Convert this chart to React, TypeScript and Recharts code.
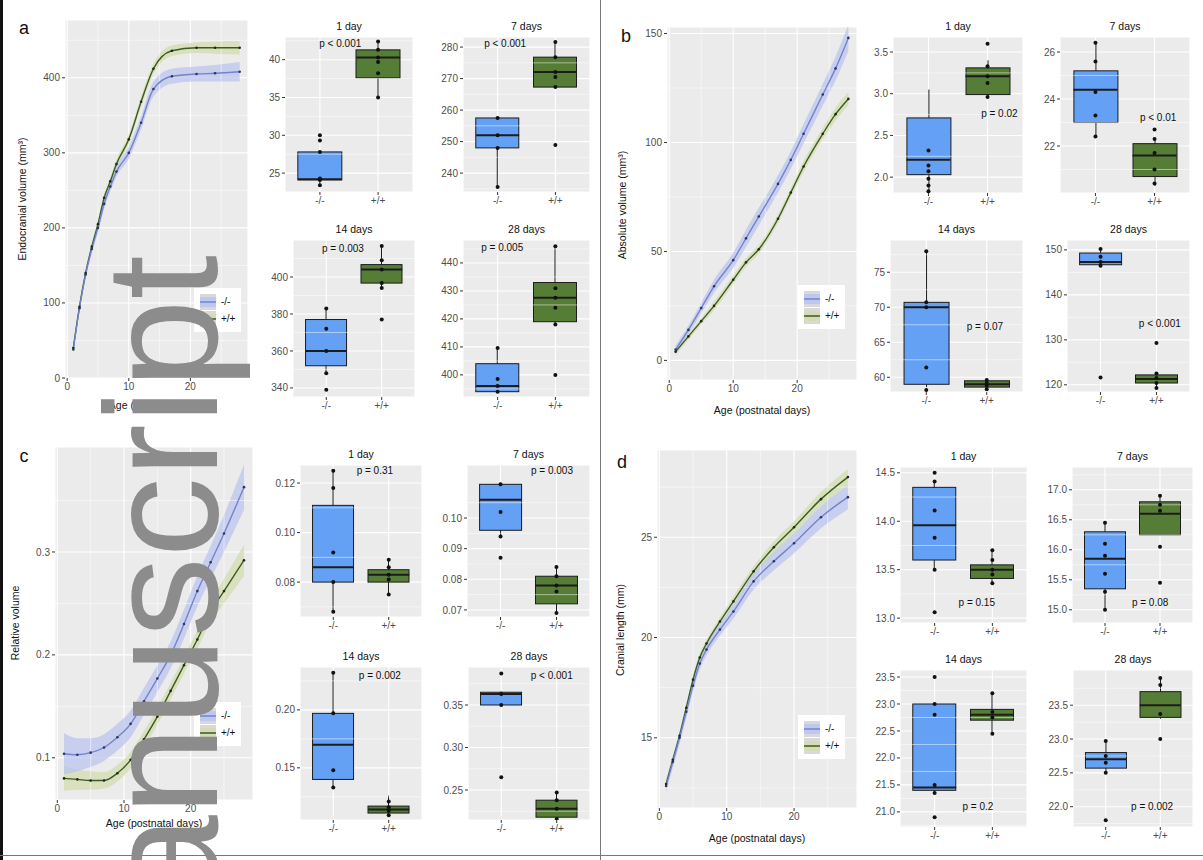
import React from 'react';
import {
  ComposedChart, Line, Area, Bar, Scatter, XAxis, YAxis, CartesianGrid,
  ReferenceLine, ReferenceDot, Legend,
} from 'recharts';

const FONT = '"Liberation Sans", Arial, Helvetica, sans-serif';
const BLUE_BOX = '#64a0f4';
const GREEN_BOX = '#567d36';
const BLUE_LINE = '#7483cc';
const GREEN_LINE = '#3d5a22';
const BLUE_BAND = '#b9c3f0';
const GREEN_BAND = '#d2dcae';
const INK = '#1c1c1c';

const groups = ['-/-', '+/+'];
const boxTitles = ['1 day', '7 days', '14 days', '28 days'];
const dayTicks = [0, 10, 20];
const dayMinor = [5, 15, 25];

// ---- a: endocranial volume
const aDays = [1, 2, 3, 4, 5, 6, 7, 8, 10, 12, 14, 17, 21, 24, 28];
const aMut = [38, 93, 138, 172, 200, 232, 255, 275, 300, 340, 385, 402, 405, 406, 408];
const aMutSe = [4, 5, 6, 6, 6, 6, 7, 7, 8, 9, 10, 10, 10, 11, 13];
const aWt = [40, 95, 140, 175, 205, 240, 262, 285, 318, 368, 412, 436, 440, 440, 440];
const aWtSe = [3, 4, 4, 5, 5, 5, 5, 6, 6, 7, 7, 7, 7, 8, 9];
const aTicks = [0, 100, 200, 300, 400];

// stats: [lower whisker, q1, median, q3, upper whisker]
const a1Mut = [23.4, 24.1, 24.2, 27.8, 27.8];
const a1MutPts = [23.4, 24.1, 24.3, 27.8, 29.3, 30.0];
const a1Wt = [35.0, 37.6, 40.3, 41.3, 42.4];
const a1WtPts = [35.0, 38.2, 39.7, 40.3, 41.3, 42.4];
const a1Ticks = [25, 30, 35, 40];

const a7Mut = [235.6, 248, 252, 257.5, 257.5];
const a7MutPts = [235.6, 248, 252, 257.5];
const a7Wt = [267.3, 267.3, 272.1, 276.8, 281.6];
const a7WtPts = [248.9, 267.3, 270.5, 272.1, 276.8, 281.6];
const a7Ticks = [240, 250, 260, 270, 280];

const a14Mut = [348, 352, 360, 377, 383];
const a14MutPts = [339, 348, 360, 372, 383];
const a14Wt = [394, 396.7, 404, 406.7, 416.7];
const a14WtPts = [377, 394, 396.7, 404, 409, 416.7];
const a14Ticks = [340, 360, 380, 400];

const a28Mut = [393.5, 394, 396, 404, 409.6];
const a28MutPts = [394, 396, 398.5, 409.6];
const a28Wt = [418, 419, 427.6, 433, 446];
const a28WtPts = [400, 418, 424, 427.6, 431, 446];
const a28Ticks = [400, 410, 420, 430, 440];

// ---- b: absolute volume
const bDays = [1, 3, 5, 7, 10, 12, 14, 17, 19, 21, 24, 26, 28];
const bMut = [5, 14, 24, 34, 46, 56, 66, 81, 92, 104, 122, 134, 148];
const bMutSe = [2, 2, 2.5, 3, 3.5, 4, 4, 4, 4, 4.5, 5, 5.5, 6];
const bWt = [4, 11, 18, 25, 37, 45, 51, 65, 77, 89, 104, 113, 120];
const bWtSe = [1.5, 1.5, 1.5, 2, 2, 2, 2, 2, 2, 2.5, 2.5, 3, 3];
const bTicks = [0, 50, 100, 150];

const b1Mut = [1.82, 2.03, 2.21, 2.71, 3.05];
const b1MutPts = [1.83, 1.9, 1.98, 2.07, 2.14, 2.32];
const b1Wt = [2.95, 2.99, 3.21, 3.31, 3.4];
const b1WtPts = [2.96, 3.13, 3.21, 3.33, 3.6];
const b1Ticks = [2.0, 2.5, 3.0, 3.5];

const b7Mut = [22.4, 23.0, 24.4, 25.2, 26.4];
const b7MutPts = [22.4, 23.3, 24.3, 25.6, 26.4];
const b7Wt = [20.3, 20.7, 21.6, 22.1, 22.3];
const b7WtPts = [20.4, 21.0, 21.7, 22.3, 22.7];
const b7Ticks = [22, 24, 26];

const b14Mut = [58.6, 59, 70, 70.7, 78];
const b14MutPts = [58.2, 61.4, 70.0, 70.7, 78];
const b14Wt = [58.3, 58.6, 59.0, 59.5, 59.8];
const b14WtPts = [58.3, 58.8, 59.2, 59.6];
const b14Ticks = [60, 65, 70, 75];

const b28Mut = [146.3, 146.7, 147.3, 149.3, 150.2];
const b28MutPts = [121.6, 146.5, 147.3, 148.5, 150.2];
const b28Wt = [119.3, 120.4, 121.3, 122.2, 122.5];
const b28WtPts = [119.3, 120.4, 121.5, 122.5, 129.3];
const b28Ticks = [120, 130, 140, 150];

// ---- c: relative volume
const cDays = [1, 3, 5, 7, 9, 11, 13, 15, 17, 19, 21, 23, 25, 28];
const cMut = [0.104, 0.103, 0.105, 0.11, 0.12, 0.133, 0.155, 0.177, 0.2, 0.23, 0.262, 0.29, 0.318, 0.363];
const cMutSe = [0.02, 0.016, 0.014, 0.013, 0.013, 0.013, 0.013, 0.013, 0.013, 0.014, 0.015, 0.016, 0.018, 0.022];
const cWt = [0.08, 0.079, 0.078, 0.078, 0.085, 0.098, 0.118, 0.14, 0.165, 0.19, 0.215, 0.242, 0.262, 0.292];
const cWtSe = [0.012, 0.01, 0.009, 0.008, 0.008, 0.008, 0.008, 0.008, 0.008, 0.008, 0.009, 0.01, 0.012, 0.015];
const cTicks = [0.1, 0.2, 0.3];

const c1Mut = [0.068, 0.08, 0.086, 0.111, 0.125];
const c1MutPts = [0.068, 0.08, 0.092, 0.118, 0.125];
const c1Wt = [0.075, 0.08, 0.083, 0.085, 0.089];
const c1WtPts = [0.075, 0.081, 0.083, 0.086, 0.089];
const c1Ticks = [0.08, 0.1, 0.12];

const c7Mut = [0.094, 0.096, 0.106, 0.111, 0.111];
const c7MutPts = [0.087, 0.094, 0.102, 0.111];
const c7Wt = [0.069, 0.072, 0.078, 0.081, 0.084];
const c7WtPts = [0.069, 0.076, 0.078, 0.081, 0.084];
const c7Ticks = [0.07, 0.08, 0.09, 0.1];

const c14Mut = [0.133, 0.14, 0.17, 0.197, 0.232];
const c14MutPts = [0.133, 0.148, 0.197, 0.232];
const c14Wt = [0.108, 0.111, 0.114, 0.117, 0.126];
const c14WtPts = [0.109, 0.113, 0.116, 0.121];
const c14Ticks = [0.15, 0.2];

const c28Mut = [0.348, 0.35, 0.363, 0.365, 0.366];
const c28MutPts = [0.265, 0.35, 0.363, 0.387];
const c28Wt = [0.216, 0.218, 0.228, 0.238, 0.247];
const c28WtPts = [0.216, 0.228, 0.238, 0.247];
const c28Ticks = [0.25, 0.3, 0.35];

// ---- d: cranial length
const dDays = [1, 2, 3, 4, 5, 6, 7, 9, 11, 14, 17, 20, 24, 28];
const dMut = [12.6, 13.8, 15.0, 16.3, 17.6, 18.7, 19.4, 20.4, 21.3, 22.8, 23.8, 24.7, 26.0, 27.0];
const dMutSe = [0.3, 0.3, 0.3, 0.3, 0.3, 0.3, 0.3, 0.3, 0.35, 0.4, 0.45, 0.5, 0.55, 0.6];
const dWt = [12.7, 13.9, 15.1, 16.5, 17.9, 19.0, 19.7, 20.8, 21.8, 23.3, 24.5, 25.5, 26.9, 28.0];
const dWtSe = [0.2, 0.2, 0.2, 0.2, 0.2, 0.2, 0.2, 0.2, 0.25, 0.25, 0.3, 0.3, 0.35, 0.4];
const dTicks = [15, 20, 25];

const d1Mut = [13.5, 13.6, 13.96, 14.35, 14.41];
const d1MutPts = [13.06, 13.5, 13.83, 14.11, 14.41, 14.5];
const d1Wt = [13.36, 13.41, 13.5, 13.55, 13.7];
const d1WtPts = [13.36, 13.45, 13.5, 13.6, 13.7];
const d1Ticks = [13.0, 13.5, 14.0, 14.5];

const d7Mut = [15.0, 15.35, 15.85, 16.3, 16.45];
const d7MutPts = [15.0, 15.3, 15.6, 15.9, 16.1, 16.45];
const d7Wt = [16.25, 16.25, 16.6, 16.8, 16.9];
const d7WtPts = [15.45, 16.05, 16.65, 16.75, 16.9];
const d7Ticks = [15.0, 15.5, 16.0, 16.5, 17.0];

const d14Mut = [21.35, 21.4, 21.45, 23.0, 23.0];
const d14MutPts = [20.9, 21.35, 21.5, 22.8, 23.0, 23.5];
const d14Wt = [22.45, 22.7, 22.8, 22.9, 23.2];
const d14WtPts = [22.45, 22.75, 22.85, 23.2];
const d14Ticks = [21.0, 21.5, 22.0, 22.5, 23.0, 23.5];

const d28Mut = [22.5, 22.57, 22.7, 22.8, 22.97];
const d28MutPts = [21.8, 22.5, 22.65, 22.75, 22.97];
const d28Wt = [23.3, 23.32, 23.5, 23.7, 23.9];
const d28WtPts = [23.0, 23.37, 23.8, 23.9];
const d28Ticks = [22.0, 22.5, 23.0, 23.5];

const tickStyle = { fontSize: 10, fill: '#4d4d4d', fontFamily: FONT };

function minorOf(ticks: number[], domain: [number, number]) {
  const step = ticks.length > 1 ? ticks[1] - ticks[0] : 1;
  const out = ticks.slice(1).map((t, i) => (t + ticks[i]) / 2);
  out.push(ticks[0] - step / 2, ticks[ticks.length - 1] + step / 2);
  return out.filter((v) => v > domain[0] && v < domain[1]);
}

type BoxProps = {
  rect: [number, number, number, number];
  title: string;
  ticks: number[];
  domain: [number, number];
  dec: number;
  mut: number[];
  wt: number[];
  mutPts: number[];
  wtPts: number[];
  p: string;
  pAt: [number, number];
};

function BoxChart({ rect, title, ticks, domain, dec, mut, wt, mutPts, wtPts, p, pAt }: BoxProps) {
  const [pl, pt, pr, pb] = rect;
  const YW = 34, MT = 2, MR = 3, XH = 16;
  const plotW = pr - pl;
  const bw = Math.round(plotW * 0.34);
  const rows = [mut, wt].map((s, i) => ({
    x: i + 1, whisker: [s[0], s[4]], box: [s[1], s[3]], fill: i ? GREEN_BOX : BLUE_BOX,
  }));
  const meds = [mut, wt].map((s, i) => ({ x: i + 1, y: s[2] }));
  const pts = [...mutPts.map((v) => ({ x: 1, y: v })), ...wtPts.map((v) => ({ x: 2, y: v }))];
  const minor = minorOf(ticks, domain);
  return (
    <>
      <div style={{ position: 'absolute', left: pl, width: plotW, top: pt - 17, textAlign: 'center', fontSize: 10.5, color: '#111' }}>
        {title}
      </div>
      <div style={{ position: 'absolute', left: pl - YW, top: pt - MT }}>
        <ComposedChart
          width={YW + plotW + MR}
          height={MT + (pb - pt) + XH}
          data={rows}
          margin={{ top: MT, right: MR, bottom: 0, left: 0 }}
          barGap={-bw}
        >
          <CartesianGrid fill="#ebebeb" stroke="#ffffff" strokeWidth={1.1} />
          {minor.map((v) => (
            <ReferenceLine key={v} y={v} stroke="#ffffff" strokeWidth={0.5} />
          ))}
          <XAxis
            type="number" dataKey="x" domain={[0.4, 2.6]} ticks={[1, 2]} allowDataOverflow
            tickFormatter={(v: number) => groups[v - 1]} height={XH} tick={tickStyle}
            tickLine={{ stroke: '#333' }} tickSize={3} axisLine={false}
          />
          <YAxis
            type="number" domain={domain} ticks={ticks} allowDataOverflow width={YW}
            tickFormatter={(v: number) => v.toFixed(dec)} tick={tickStyle}
            tickLine={{ stroke: '#333' }} tickSize={3} axisLine={false}
          />
          <Bar
            dataKey="whisker" barSize={bw} isAnimationActive={false}
            shape={(props: any) => {
              const cx = props.x + props.width / 2;
              return <line x1={cx} x2={cx} y1={props.y} y2={props.y + props.height} stroke={INK} strokeWidth={1} />;
            }}
          />
          <Bar
            dataKey="box" barSize={bw} isAnimationActive={false}
            shape={(props: any) => {
              const y = Math.min(props.y, props.y + props.height);
              return (
                <rect x={props.x} y={y} width={props.width} height={Math.abs(props.height)}
                  fill={props.payload.fill} stroke={INK} strokeWidth={1} />
              );
            }}
          />
          <Scatter
            data={meds} dataKey="y" isAnimationActive={false}
            shape={(props: any) => (
              <line x1={props.cx - bw / 2} x2={props.cx + bw / 2} y1={props.cy} y2={props.cy} stroke={INK} strokeWidth={2} />
            )}
          />
          <Scatter
            data={pts} dataKey="y" isAnimationActive={false}
            shape={(props: any) => <circle cx={props.cx} cy={props.cy} r={2} fill="#111" />}
          />
          <ReferenceDot
            x={pAt[0]} y={pAt[1]} r={0} fill="none" stroke="none"
            label={{ value: p, position: 'center', fontSize: 10, fill: '#111', fontFamily: FONT }}
          />
        </ComposedChart>
      </div>
    </>
  );
}

function KeyLegend() {
  const items: [string, string, string][] = [
    [groups[0], BLUE_LINE, BLUE_BAND],
    [groups[1], GREEN_LINE, GREEN_BAND],
  ];
  return (
    <div style={{ background: '#ffffff', padding: '5px 6px', fontSize: 10, fontFamily: FONT, color: '#111' }}>
      {items.map(([lab, line, band]) => (
        <div key={lab} style={{ display: 'flex', alignItems: 'center', height: 17 }}>
          <svg width={16} height={16}>
            <rect width={16} height={16} fill="#d9d9d9" />
            <rect y={3} width={16} height={10} fill={band} opacity={0.85} />
            <line x1={0} x2={16} y1={8} y2={8} stroke={line} strokeWidth={1.5} />
          </svg>
          <span style={{ marginLeft: 5 }}>{lab}</span>
        </div>
      ))}
    </div>
  );
}

type GrowthProps = {
  rect: [number, number, number, number];
  days: number[];
  mut: number[];
  mutSe: number[];
  wt: number[];
  wtSe: number[];
  yTicks: number[];
  yDomain: [number, number];
  dec: number;
  legendAt: [number, number];
};

function GrowthChart({ rect, days, mut, mutSe, wt, wtSe, yTicks, yDomain, dec, legendAt }: GrowthProps) {
  const [pl, pt, pr, pb] = rect;
  const YW = 30, MT = 2, MR = 2, XH = 18;
  const left = pl - YW, top = pt - MT;
  const rows = days.map((d, i) => ({
    day: d,
    mut: mut[i],
    wt: wt[i],
    mutBand: [mut[i] - mutSe[i], mut[i] + mutSe[i]],
    wtBand: [wt[i] - wtSe[i], wt[i] + wtSe[i]],
  }));
  const yMinor = minorOf(yTicks, yDomain);
  return (
    <div style={{ position: 'absolute', left, top }}>
      <ComposedChart
        width={YW + (pr - pl) + MR}
        height={MT + (pb - pt) + XH}
        data={rows}
        margin={{ top: MT, right: MR, bottom: 0, left: 0 }}
      >
        <CartesianGrid fill="#ebebeb" stroke="#ffffff" strokeWidth={1.1} />
        {yMinor.map((v) => (
          <ReferenceLine key={'y' + v} y={v} stroke="#ffffff" strokeWidth={0.5} />
        ))}
        {dayMinor.map((v) => (
          <ReferenceLine key={'x' + v} x={v} stroke="#ffffff" strokeWidth={0.5} />
        ))}
        <XAxis
          type="number" dataKey="day" domain={[-0.35, 29.35]} ticks={dayTicks} allowDataOverflow
          height={XH} tick={tickStyle} tickLine={{ stroke: '#333' }} tickSize={3} axisLine={false}
        />
        <YAxis
          type="number" domain={yDomain} ticks={yTicks} allowDataOverflow width={YW}
          tickFormatter={(v: number) => v.toFixed(dec)} tick={tickStyle}
          tickLine={{ stroke: '#333' }} tickSize={3} axisLine={false}
        />
        <Area dataKey="wtBand" type="monotone" stroke="none" fill={GREEN_BAND} fillOpacity={0.75} isAnimationActive={false} />
        <Area dataKey="mutBand" type="monotone" stroke="none" fill={BLUE_BAND} fillOpacity={0.7} isAnimationActive={false} />
        <Line dataKey="wt" type="monotone" stroke={GREEN_LINE} strokeWidth={1.4}
          dot={{ r: 1.3, fill: '#1e2a12', stroke: 'none' }} isAnimationActive={false} />
        <Line dataKey="mut" type="monotone" stroke={BLUE_LINE} strokeWidth={1.4}
          dot={{ r: 1.3, fill: '#2b3566', stroke: 'none' }} isAnimationActive={false} />
        <Legend
          verticalAlign="middle" align="center" layout="horizontal"
          content={<KeyLegend />}
          wrapperStyle={{ left: legendAt[0] - left, top: legendAt[1] - top, width: 'auto', height: 'auto' }}
        />
      </ComposedChart>
    </div>
  );
}

function Txt({ x, y, children, rotate = false, size = 10.5, weight = 400 }: any) {
  return (
    <div
      style={{
        position: 'absolute', left: x, top: y, fontSize: size, fontWeight: weight, color: '#111',
        whiteSpace: 'nowrap', transform: `translate(-50%, -50%)${rotate ? ' rotate(-90deg)' : ''}`,
      }}
    >
      {children}
    </div>
  );
}

export default function App() {
  return (
    <div style={{ position: 'absolute', left: 0, top: 0, width: 1203, height: 860, background: '#fff', overflow: 'hidden', fontFamily: FONT }}>
      {/* a */}
      <Txt x={24} y={28} size={18}>a</Txt>
      <Txt x={22} y={199} rotate>Endocranial volume (mm³)</Txt>
      <Txt x={157} y={405}>Age (postnatal days)</Txt>
      <GrowthChart rect={[65, 20, 248, 378]} days={aDays} mut={aMut} mutSe={aMutSe} wt={aWt} wtSe={aWtSe}
        yTicks={aTicks} yDomain={[0, 477]} dec={0} legendAt={[194, 288]} />
      <BoxChart rect={[285, 37, 413, 192]} title={boxTitles[0]} ticks={a1Ticks} domain={[22.5, 43.0]} dec={0}
        mut={a1Mut} wt={a1Wt} mutPts={a1MutPts} wtPts={a1WtPts} p="p < 0.001" pAt={[1.35, 42.2]} />
      <BoxChart rect={[463, 37, 590, 192]} title={boxTitles[1]} ticks={a7Ticks} domain={[234, 283.2]} dec={0}
        mut={a7Mut} wt={a7Wt} mutPts={a7MutPts} wtPts={a7WtPts} p="p < 0.001" pAt={[1.13, 281.3]} />
      <BoxChart rect={[293, 240, 415, 397]} title={boxTitles[2]} ticks={a14Ticks} domain={[335.1, 420]} dec={0}
        mut={a14Mut} wt={a14Wt} mutPts={a14MutPts} wtPts={a14WtPts} p="p = 0.003" pAt={[1.3, 415.5]} />
      <BoxChart rect={[463, 240, 590, 397]} title={boxTitles[3]} ticks={a28Ticks} domain={[392.1, 448.2]} dec={0}
        mut={a28Mut} wt={a28Wt} mutPts={a28MutPts} wtPts={a28WtPts} p="p = 0.005" pAt={[1.08, 445.4]} />

      {/* b */}
      <Txt x={626} y={36} size={18}>b</Txt>
      <Txt x={622} y={205} rotate>Absolute volume (mm³)</Txt>
      <Txt x={762} y={410}>Age (postnatal days)</Txt>
      <GrowthChart rect={[667, 27, 857, 380]} days={bDays} mut={bMut} mutSe={bMutSe} wt={bWt} wtSe={bWtSe}
        yTicks={bTicks} yDomain={[-9, 153]} dec={0} legendAt={[798, 285]} />
      <BoxChart rect={[893, 37, 1023, 193]} title={boxTitles[0]} ticks={b1Ticks} domain={[1.81, 3.68]} dec={1}
        mut={b1Mut} wt={b1Wt} mutPts={b1MutPts} wtPts={b1WtPts} p="p = 0.02" pAt={[2.2, 2.76]} />
      <BoxChart rect={[1060, 37, 1190, 193]} title={boxTitles[1]} ticks={b7Ticks} domain={[20.0, 26.64]} dec={0}
        mut={b7Mut} wt={b7Wt} mutPts={b7MutPts} wtPts={b7WtPts} p="p < 0.01" pAt={[2.06, 23.2]} />
      <BoxChart rect={[890, 240, 1023, 392]} title={boxTitles[2]} ticks={b14Ticks} domain={[57.9, 79.6]} dec={0}
        mut={b14Mut} wt={b14Wt} mutPts={b14MutPts} wtPts={b14WtPts} p="p = 0.07" pAt={[1.97, 67.3]} />
      <BoxChart rect={[1067, 240, 1190, 392]} title={boxTitles[3]} ticks={b28Ticks} domain={[118.4, 152.2]} dec={0}
        mut={b28Mut} wt={b28Wt} mutPts={b28MutPts} wtPts={b28WtPts} p="p < 0.001" pAt={[2.06, 133.6]} />

      {/* c */}
      <Txt x={24} y={456} size={18}>c</Txt>
      <Txt x={15} y={623} rotate>Relative volume</Txt>
      <Txt x={154} y={823}>Age (postnatal days)</Txt>
      <GrowthChart rect={[55, 447, 253, 800]} days={cDays} mut={cMut} mutSe={cMutSe} wt={cWt} wtSe={cWtSe}
        yTicks={cTicks} yDomain={[0.059, 0.402]} dec={1} legendAt={[194, 702]} />
      <BoxChart rect={[300, 465, 422, 617]} title={boxTitles[0]} ticks={c1Ticks} domain={[0.0659, 0.1273]} dec={2}
        mut={c1Mut} wt={c1Wt} mutPts={c1MutPts} wtPts={c1WtPts} p="p = 0.31" pAt={[1.75, 0.1253]} />
      <BoxChart rect={[467, 465, 590, 617]} title={boxTitles[1]} ticks={c7Ticks} domain={[0.0677, 0.1173]} dec={2}
        mut={c7Mut} wt={c7Wt} mutPts={c7MutPts} wtPts={c7WtPts} p="p = 0.003" pAt={[1.92, 0.1156]} />
      <BoxChart rect={[300, 667, 422, 820]} title={boxTitles[2]} ticks={c14Ticks} domain={[0.105, 0.237]} dec={2}
        mut={c14Mut} wt={c14Wt} mutPts={c14MutPts} wtPts={c14WtPts} p="p = 0.002" pAt={[1.84, 0.23]} />
      <BoxChart rect={[468, 667, 590, 820]} title={boxTitles[3]} ticks={c28Ticks} domain={[0.2147, 0.3947]} dec={2}
        mut={c28Mut} wt={c28Wt} mutPts={c28MutPts} wtPts={c28WtPts} p="p < 0.001" pAt={[1.91, 0.385]} />

      {/* d */}
      <Txt x={622} y={462} size={18}>d</Txt>
      <Txt x={620} y={630} rotate>Cranial length (mm)</Txt>
      <Txt x={757} y={838}>Age (postnatal days)</Txt>
      <GrowthChart rect={[657, 450, 857, 808]} days={dDays} mut={dMut} mutSe={dMutSe} wt={dWt} wtSe={dWtSe}
        yTicks={dTicks} yDomain={[11.5, 29.35]} dec={0} legendAt={[798, 715]} />
      <BoxChart rect={[900, 467, 1027, 623]} title={boxTitles[0]} ticks={d1Ticks} domain={[12.95, 14.56]} dec={1}
        mut={d1Mut} wt={d1Wt} mutPts={d1MutPts} wtPts={d1WtPts} p="p = 0.15" pAt={[1.73, 13.16]} />
      <BoxChart rect={[1072, 467, 1193, 623]} title={boxTitles[1]} ticks={d7Ticks} domain={[14.78, 17.38]} dec={1}
        mut={d7Mut} wt={d7Wt} mutPts={d7MutPts} wtPts={d7WtPts} p="p = 0.08" pAt={[1.82, 15.13]} />
      <BoxChart rect={[900, 670, 1027, 827]} title={boxTitles[2]} ticks={d14Ticks} domain={[20.72, 23.63]} dec={1}
        mut={d14Mut} wt={d14Wt} mutPts={d14MutPts} wtPts={d14WtPts} p="p = 0.2" pAt={[1.75, 21.1]} />
      <BoxChart rect={[1073, 670, 1193, 827]} title={boxTitles[3]} ticks={d28Ticks} domain={[21.7, 24.02]} dec={1}
        mut={d28Mut} wt={d28Wt} mutPts={d28MutPts} wtPts={d28WtPts} p="p = 0.002" pAt={[1.85, 22.0]} />

      {/* frame */}
      <div style={{ position: 'absolute', left: 0, top: 0, width: 3, height: 860, background: '#111' }} />
      <div style={{ position: 'absolute', left: 600, top: 0, width: 1, height: 860, background: '#777' }} />
      <div style={{ position: 'absolute', left: 0, top: 855, width: 1203, height: 1, background: '#777' }} />

      {/* watermark */}
      <svg width={1203} height={860} style={{ position: 'absolute', left: 0, top: 0, pointerEvents: 'none' }}>
        <text transform="translate(217,255) rotate(-90)" textAnchor="end" fontFamily={FONT} fontSize={160} fill="#8c8c8c">
          manuscript
        </text>
      </svg>
    </div>
  );
}
